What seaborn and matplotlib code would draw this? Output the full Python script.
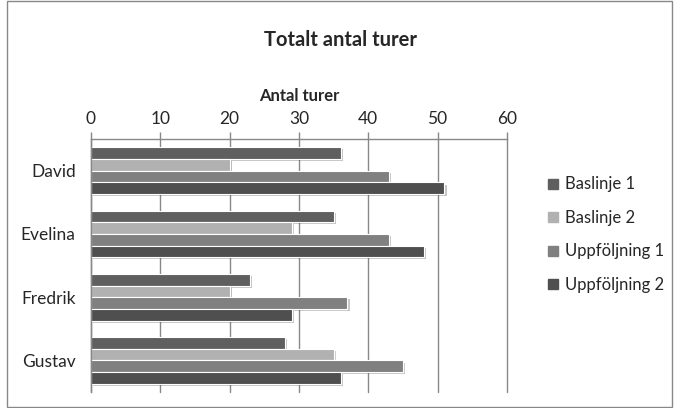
import matplotlib
matplotlib.use("Agg")
import matplotlib.pyplot as plt
import matplotlib.patheffects as pe
from matplotlib.patches import Rectangle
import pandas as pd
import seaborn as sns

sns.set_theme(style="white")
plt.rcParams['font.family'] = ['Lato', 'DejaVu Sans']

names = ['David', 'Evelina', 'Fredrik', 'Gustav']
series = ['Baslinje 1', 'Baslinje 2', 'Uppföljning 1', 'Uppföljning 2']
baslinje1 = [36, 35, 23, 28]
baslinje2 = [20, 29, 20, 35]
uppfoljning1 = [43, 43, 37, 45]
uppfoljning2 = [51, 48, 29, 36]
colors = ['#5f5f5f', '#b1b1b1', '#808080', '#4f4f4f']

rows = []
for s, vals in zip(series, [baslinje1, baslinje2, uppfoljning1, uppfoljning2]):
    for n, v in zip(names, vals):
        rows.append({'Namn': n, 'Serie': s, 'Turer': v})
df = pd.DataFrame(rows)

fig = plt.figure(figsize=(6.74, 4.08), dpi=100)
ax = fig.add_axes([0.135, 0.039, 0.617, 0.620])

sns.barplot(data=df, x='Turer', y='Namn', hue='Serie', order=names,
            hue_order=series, palette=colors, orient='h', width=0.74,
            edgecolor='white', linewidth=0.8, ax=ax, legend=False)

for p in ax.patches:
    p.set_path_effects([pe.SimplePatchShadow(offset=(1.5, -1.5), alpha=0.25),
                        pe.Normal()])

ax.set_xlim(0, 60)
ax.set_xticks(range(0, 61, 10))
ax.xaxis.tick_top()
ax.xaxis.set_label_position('top')
ax.set_xlabel('Antal turer', fontsize=12, fontweight='bold', labelpad=7)
ax.set_ylabel('')
ax.tick_params(axis='x', length=5, width=1, color='#888888', labelsize=12.5,
               pad=4, top=True, bottom=False)
ax.tick_params(axis='y', length=0, labelsize=12.5, pad=11)
ax.grid(axis='x', color='#888888', linewidth=1)
for line in ax.get_xgridlines():
    line.set_clip_on(False)
ax.set_axisbelow(True)
for side in ['right', 'bottom']:
    ax.spines[side].set_visible(False)
for side in ['left', 'top']:
    ax.spines[side].set_color('#888888')
    ax.spines[side].set_linewidth(1)

fig.text(0.505, 0.902, 'Totalt antal turer', ha='center', va='center',
         fontsize=14.5, fontweight='bold')

handles = [plt.Line2D([], [], marker='s', linestyle='', markersize=7,
                      markerfacecolor=c, markeredgecolor=c) for c in colors]
fig.legend(handles, series, loc='center left', bbox_to_anchor=(0.787, 0.425),
           frameon=False, fontsize=12, labelspacing=1.05, handletextpad=0.25,
           handlelength=0.9)

fig.add_artist(Rectangle((0.011, 0.002), 0.986, 0.995, transform=fig.transFigure,
                         fill=False, edgecolor='#888888', linewidth=1))

fig.savefig('out.png', dpi=100)
